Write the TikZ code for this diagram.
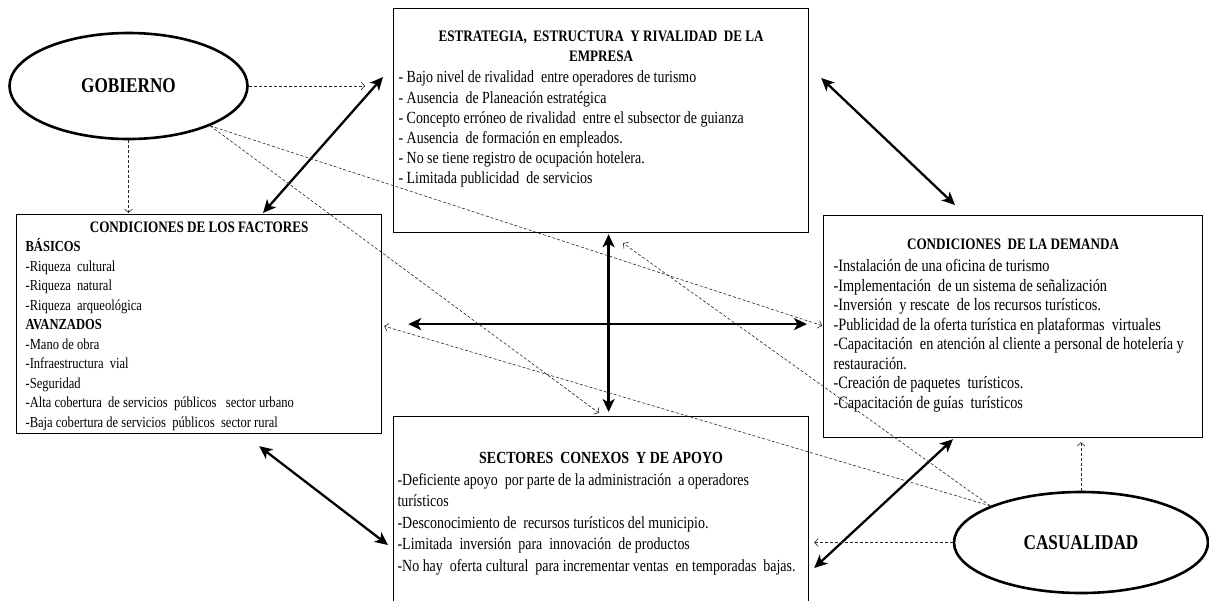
\documentclass[tikz,border=0pt]{standalone}
\usepackage{fontspec}
\setmainfont{Liberation Serif}[FakeStretch=0.82]
\usetikzlibrary{arrows.meta, positioning, calc, shapes.geometric}

\tikzset{
  caja/.style={draw, line width=1.2pt, anchor=north west, inner ysep=0pt},
  elipse/.style={draw, fill=white, ellipse, line width=2.6pt, inner sep=0pt, font=\fontsize{21}{24}\selectfont\bfseries},
  doble/.style={{Stealth[length=13pt,width=12pt,inset=3.5pt]}-{Stealth[length=13pt,width=12pt,inset=3.5pt]}, line width=2.3pt},
  punteada/.style={-{Straight Barb[length=3.5pt,width=8pt]}, line width=0.6pt, dash pattern=on 3pt off 2pt, black!85},
}

% ancho, alto, espacio arriba, letra, interlineado, contenido
\newcommand{\texto}[6]{\begin{minipage}[t][#2][t]{#1}\fontsize{#4}{#5}\selectfont\lineskiplimit=-\maxdimen\vspace*{#3}#6\end{minipage}}
\newcommand{\titulo}[1]{{\centering\fontsize{16}{20}\selectfont\bfseries #1\par}}

\begin{document}
\begin{tikzpicture}[x=1pt, y=-1pt]
\useasboundingbox (0,0) rectangle (1209,600);

% Cajas
\node[caja, inner xsep=5pt] (estr) at (393,8) {\texto{405pt}{224pt}{22pt}{17}{20.2pt}{%
  \titulo{ESTRATEGIA,\ \ ESTRUCTURA\ \ Y RIVALIDAD\ \ DE LA\\ EMPRESA}
  \vspace{1.5pt}
  - Bajo nivel de rivalidad\ \ entre operadores de turismo\\
  - Ausencia\ \ de Planeación estratégica\\
  - Concepto erróneo de rivalidad\ \ entre el subsector de guianza\\
  - Ausencia\ \ de formación en empleados.\\
  - No se tiene registro de ocupación hotelera.\\
  - Limitada publicidad\ \ de servicios}};

\node[caja, inner xsep=9pt] (fact) at (16,214) {\texto{347pt}{219pt}{7.2pt}{15.3}{19.5pt}{%
  \titulo{CONDICIONES DE LOS FACTORES}
  \textbf{BÁSICOS}\\
  -Riqueza\ \ cultural\\
  -Riqueza\ \ natural\\
  -Riqueza\ \ arqueológica\\
  \textbf{AVANZADOS}\\
  -Mano de obra\\
  -Infraestructura\ \ vial\\
  -Seguridad\\
  -Alta cobertura\ \ de servicios\ \ públicos\ \ \ sector urbano\\
  -Baja cobertura de servicios\ \ públicos\ \ sector rural}};

\node[caja, inner xsep=10pt] (dem) at (823,215) {\texto{359pt}{222pt}{23.7pt}{17.4}{19.5pt}{%
  \titulo{CONDICIONES\ \ DE LA DEMANDA}
  \vspace{2.5pt}
  -Instalación de una oficina de turismo\\
  -Implementación\ \ de un sistema de señalización\\
  -Inversión\ \ y rescate\ \ de los recursos turísticos.\\
  -Publicidad de la oferta turística en plataformas\ \ virtuales\\
  -Capacitación\ \ en atención al cliente a personal de hotelería y\\
  restauración.\\
  -Creación de paquetes\ \ turísticos.\\
  -Capacitación de guías\ \ turísticos}};

\node[caja, inner xsep=4pt] (sect) at (393,416) {\texto{407pt}{190pt}{35.9pt}{17}{21.5pt}{%
  {\centering\bfseries SECTORES\ \ CONEXOS\ \ Y DE APOYO\par}
  -Deficiente apoyo\ \ por parte de la administración\ \ a operadores\\
  turísticos\\
  -Desconocimiento de\ \ recursos turísticos del municipio.\\
  -Limitada\ \ inversión\ \ para\ \ innovación\ \ de productos\\
  -No hay\ \ oferta cultural\ \ para incrementar ventas\ \ en temporadas\ \ bajas.}};

% Elipses
\node[elipse, minimum width=238pt, minimum height=106pt] (gob) at (128.5,86) {GOBIERNO};
\node[elipse, minimum width=254pt, minimum height=101pt] (cas) at (1081,542.5) {CASUALIDAD};

% Flechas dobles entre cajas
\draw[doble] ($(estr.north west)+(-10,69)$) -- ($(fact.north west)+(247,-1)$);
\draw[doble] ($(estr.north east)+(12,70)$) -- ($(dem.north west)+(132,-10)$);
\draw[doble] ($(estr.south)+(7.5,1)$) -- ($(sect.north)+(7.5,-4)$);
\draw[doble] ($(fact.east)+(26,0)$) -- ($(fact.east -| dem.west)+(-16,0)$);
\draw[doble] ($(fact.south east)+(-123,12)$) -- ($(sect.north west)+(-5,129)$);
\draw[doble] ($(dem.south west)+(130,1)$) -- ($(sect.north east)+(5,152)$);

% Gobierno
\draw[punteada] (gob.east) -- ($(estr.north west)+(-28,78)$);
\draw[punteada] (gob.south) -- ($(gob.south |- fact.north)+(0,-1)$);
\draw[punteada] (gob.-26) -- ($(dem.west)+(-1,-1)$);
\draw[punteada] (gob.-26) -- ($(sect.north)+(-2,-3)$);

% Casualidad
\draw[punteada] (cas.158) -- ($(fact.east)+(2,2)$);
\draw[punteada] (cas.158) -- ($(estr.south)+(22,10)$);
\draw[punteada] (cas.north) -- ($(cas.north |- dem.south)+(0,4)$);
\draw[punteada] (cas.west) -- ($(cas.west -| sect.east)+(5,0)$);

\end{tikzpicture}
\end{document}
